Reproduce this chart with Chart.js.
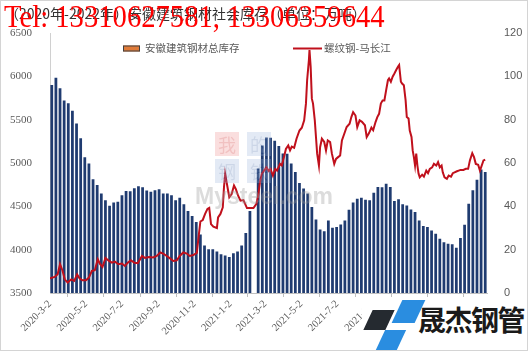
<!DOCTYPE html>
<html>
<head>
<meta charset="utf-8">
<script src="https://cdn.jsdelivr.net/npm/chart.js@4.4.1/dist/chart.umd.min.js"></script>
<style>
html, body { margin: 0; padding: 0; background: #fff; }
#wrap { position: relative; width: 528px; height: 351px; overflow: hidden; }
canvas { display: block; }
.frame { position: absolute; left: 0; top: 0; width: 526px; height: 349px; border: 1px solid #d4d4d4; pointer-events: none; }
#tel { position: absolute; left: 4px; top: 0; font: 32px/32px "Liberation Serif", serif; color: #f00; white-space: nowrap; transform-origin: 0 0; transform: scaleX(0.895); pointer-events: none; }
.wm { position: absolute; width: 24px; height: 24px; font: 18px/24px "Noto Sans CJK SC"; text-align: center; opacity: 0.28; }
#mysteel { position: absolute; left: 195px; top: 182px; font: bold 23px/28px "Liberation Sans", sans-serif; color: #9a9a9a; opacity: 0.35; }
#logoBg { position: absolute; left: 362px; top: 298px; width: 166px; height: 53px; background: #fff; }
.pg { position: absolute; transform: skewX(-25deg); }
#logoText { position: absolute; left: 418px; top: 305px; font: bold 28px/28px "Noto Sans CJK SC"; letter-spacing: -1.5px; color: #1a1a1a; white-space: nowrap; }
</style>
</head>
<body>
<div id="wrap">
  <canvas id="chart" width="528" height="351"></canvas>
  <div class="wm" style="left:215px;top:132px;background:#e88;color:#c22;">我</div>
  <div class="wm" style="left:247px;top:132px;background:#9ab4dc;color:#4a6ea8;">的</div>
  <div class="wm" style="left:215px;top:159px;background:#9ab4dc;color:#4a6ea8;">钢</div>
  <div class="wm" style="left:247px;top:159px;background:#9ab4dc;color:#4a6ea8;">铁</div>
  <div id="mysteel">Mysteel.com</div>
  <div id="tel">Tel: 13310627581, 13306359644</div>
  <div id="logoBg"></div>
  <div class="pg" style="left:368px;top:310px;width:22px;height:20px;background:#252a30;"></div>
  <div class="pg" style="left:397px;top:300px;width:23px;height:23px;background:#2a8de0;"></div>
  <div class="pg" style="left:380px;top:330px;width:21px;height:22px;background:#2a8de0;"></div>
  <div id="logoText">晟杰钢管</div>
  <div class="frame"></div>
</div>
<script>
// x axis: days counted from 2020-3-2
const startDate = '2020-3-2'
const tickLabels = ['2020-3-2', '2020-5-2', '2020-7-2', '2020-9-2', '2020-11-2', '2021-1-2', '2021-3-2',
                    '2021-5-2', '2021-7-2', '2021-9-2', '2021-11-2', '2022-1-2', '2022-3-2']

// weekly stock (left axis), first week on day 3, one week missing at spring festival
const firstWeekDay = 3
const stockValues = [
  5897, 5980, 5858, 5716, 5685, 5600, 5453, 5283, 5063, 4990,
  4808, 4743, 4643, 4565, 4504, 4539, 4550, 4623, 4673, 4670,
  4704, 4727, 4715, 4680, 4665, 4681, 4693, 4643, 4643, 4623,
  4565, 4596, 4519, 4442, 4384, 4315, 4172, 4044, 4002, 4002,
  3975, 3944, 3929, 3913, 3955, 3975, 4044, 4188, 4442, null,
  4932, 5199, 5291, 5288, 5252, 5191, 5106, 5102, 4990, 4893,
  4766, 4701, 4643, 4488, 4345, 4229, 4210, 4334, 4249, 4257,
  4288, 4334, 4457, 4539, 4585, 4596, 4573, 4565, 4654, 4720,
  4716, 4758, 4720, 4557, 4577, 4519, 4507, 4461, 4430, 4334,
  4268, 4257, 4218, 4180, 4122, 4083, 4064, 4060, 4017, 4130,
  4284, 4527, 4681, 4804, 4920, 4893
]

// price spread (right axis)
const priceDays = [
  0, 8, 13, 17, 21, 25, 30, 36, 41, 46,
  50, 55, 61, 66, 71, 76, 81, 85, 89, 94,
  100, 105, 110, 116, 122, 127, 132, 137, 143, 149,
  156, 161, 168, 175, 181, 187, 192, 198, 203, 209,
  215, 220, 226, 232, 237, 243, 249, 252, 255, 259,
  263, 267, 270, 273, 277, 283, 285, 289, 293, 295,
  297, 301, 304, 308, 312, 315, 319, 323, 328, 334,
  339, 345, 350, 353, 356, 359, 363, 367, 371, 374,
  378, 382, 385, 390, 393, 397, 400, 404, 407, 410,
  414, 418, 423, 427, 431, 434, 436, 439, 440, 442,
  444, 446, 449, 451, 453, 456, 458, 461, 465, 468,
  471, 475, 478, 482, 485, 488, 492, 495, 499, 503,
  508, 511, 514, 518, 521, 525, 529, 534, 537, 541,
  545, 548, 552, 555, 558, 561, 564, 567, 570, 573,
  575, 578, 581, 584, 587, 590, 592, 595, 597, 600,
  603, 605, 608, 610, 613, 615, 617, 619, 621, 623,
  625, 627, 631, 634, 638, 641, 644, 648, 651, 655,
  658, 661, 664, 666, 669, 673, 676, 680, 683, 686,
  690, 693, 696, 701, 705, 709, 712, 716, 719, 722,
  726, 729, 731, 735, 738
]
const priceValues = [
  6.8, 7.4, 8.7, 13.3, 10.5, 6.3, 4.8, 6.3, 5.6, 8.6,
  6.8, 5.9, 5.9, 7.1, 10.2, 10.5, 15.6, 13.3, 12.0, 16.2,
  14.8, 14.0, 14.5, 13.3, 13.6, 12.5, 14.0, 15.1, 14.0, 13.8,
  17.1, 16.2, 16.6, 16.4, 17.1, 18.7, 18.2, 17.1, 16.1, 14.8,
  15.1, 17.1, 18.7, 18.2, 17.1, 17.5, 18.5, 26, 33, 33.7,
  36.5, 38.8, 39.3, 31.8, 30.6, 30.0, 34.9, 36.5, 39.5, 48.8,
  55.0, 48.8, 44.2, 45.7, 49.6, 48.0, 44.9, 42.6, 42.9, 39.2,
  39.2, 39.2, 41.1, 44.9, 51.1, 55.0, 56.5, 58.0, 56.3, 57.2,
  54.2, 57.2, 56.5, 59.6, 58.9, 63.0, 66.5, 68.1, 65.8, 67.6,
  67.0, 71.2, 75.0, 76.3, 79.7, 87.4, 98.2, 107.5, 112.1, 104.4,
  89.7, 87.4, 79.7, 72.0, 64.3, 58.8, 67.3, 71.2, 69.7, 65.8,
  70.4, 69.7, 64.3, 59.6, 61.9, 62.6, 63.5, 70.4, 73.5, 76.6,
  78.1, 81.2, 83.5, 81.9, 76.6, 79.7, 79.0, 77.4, 72.0, 73.8,
  76.3, 75.1, 78.9, 81.2, 82.7, 87.4, 88.9, 88.9, 93.6, 98.2,
  99.0, 97.5, 99.8, 101.3, 102.9, 104.4, 105.2, 97.5, 96.7, 95.9,
  88.9, 81.2, 80.5, 75.0, 72.0, 65.8, 62.7, 58.8, 64.3, 58.8,
  55.0, 53.4, 54.6, 53.7, 56.5, 55.3, 57.3, 58.0, 59.6, 58.8,
  60.4, 58.0, 58.8, 55.7, 53.4, 52.7, 54.2, 53.7, 55.3, 55.7,
  56.2, 56.5, 56.8, 56.8, 57.3, 57.3, 61.2, 64.5, 62.7, 59.6,
  59.2, 56.5, 58.0, 61.2, 61.5
]

const stockColor = '#1f3b70'
const stockLegendColor = '#e07b39'
const priceColor = '#c0101c'

function dayOf(s) {
  const p = s.split('-').map(Number)
  const q = startDate.split('-').map(Number)
  return Math.round((Date.UTC(p[0], p[1] - 1, p[2]) - Date.UTC(q[0], q[1] - 1, q[2])) / 86400000)
}
const tickDays = tickLabels.map(dayOf)

// legend drawn inside the plot, like the original
const legendItems = {
  id: 'legendItems',
  afterDraw(chart) {
    const {ctx, chartArea} = chart
    const x0 = chartArea.left
    const y = chartArea.top + 15.5
    ctx.save()
    ctx.font = '10.5px "Noto Sans CJK SC"'
    ctx.textBaseline = 'middle'
    ctx.fillStyle = stockLegendColor
    ctx.fillRect(x0 + 73, y - 3, 17, 6)
    ctx.strokeStyle = '#404040'
    ctx.lineWidth = 1
    ctx.strokeRect(x0 + 73.5, y - 2.5, 16, 5)
    ctx.fillStyle = '#595959'
    ctx.fillText(chart.data.datasets[1].label, x0 + 95, y)
    ctx.strokeStyle = priceColor
    ctx.lineWidth = 2
    ctx.beginPath()
    ctx.moveTo(x0 + 243, y)
    ctx.lineTo(x0 + 272, y)
    ctx.stroke()
    ctx.fillText(chart.data.datasets[0].label, x0 + 274, y)
    ctx.restore()
  }
}

new Chart(document.getElementById('chart'), {
  type: 'bar',
  data: {
    datasets: [
      {
        type: 'line',
        label: '螺纹钢-马长江',
        data: priceDays.map((d, i) => ({x: d, y: priceValues[i]})),
        yAxisID: 'y1',
        borderColor: priceColor,
        borderWidth: 2,
        pointRadius: 0,
        tension: 0,
        order: 0
      },
      {
        type: 'bar',
        label: '安徽建筑钢材总库存',
        data: stockValues.map((v, i) => ({x: firstWeekDay + 7 * i, y: v})),
        yAxisID: 'y',
        backgroundColor: stockColor,
        barThickness: 2.1,
        order: 1
      }
    ]
  },
  options: {
    responsive: false,
    animation: false,
    layout: {padding: {left: 5, right: 0, top: 0, bottom: 0}},
    plugins: {
      legend: {display: false},
      tooltip: {enabled: false},
      title: {
        display: true,
        text: '（2020年-2022年）安徽建筑钢材社会库存（单位：万吨）',
        align: 'start',
        color: '#333',
        font: {family: 'Noto Sans CJK SC', size: 14, weight: 'normal', lineHeight: 1.2},
        padding: {top: 5, bottom: 11.2}
      }
    },
    scales: {
      x: {
        type: 'linear',
        min: 0,
        max: 741,
        offset: false,
        afterBuildTicks: axis => { axis.ticks = tickDays.map(v => ({value: v})) },
        afterFit: axis => { axis.height = 58 },
        grid: {drawOnChartArea: false, drawTicks: true, tickLength: 4, color: '#bfbfbf'},
        border: {color: '#bfbfbf'},
        ticks: {
          autoSkip: false,
          maxRotation: 45,
          minRotation: 45,
          padding: 1,
          color: '#595959',
          font: {family: 'Liberation Serif', size: 10.5},
          callback: v => tickLabels[tickDays.indexOf(v)]
        }
      },
      y: {
        position: 'left',
        min: 3500,
        max: 6500,
        afterFit: axis => { axis.width = 45 },
        grid: {display: false},
        border: {color: '#d0d0d0'},
        ticks: {stepSize: 500, padding: 10, color: '#595959', font: {family: 'Liberation Serif', size: 11}, callback: v => String(v)}
      },
      y1: {
        position: 'right',
        min: 0,
        max: 120,
        afterFit: axis => { axis.width = 41 },
        grid: {display: false},
        border: {display: false},
        ticks: {stepSize: 20, padding: 9, color: '#595959', font: {family: 'Liberation Sans', size: 11}, callback: v => String(v)}
      }
    }
  },
  plugins: [legendItems]
})
</script>
</body>
</html>
